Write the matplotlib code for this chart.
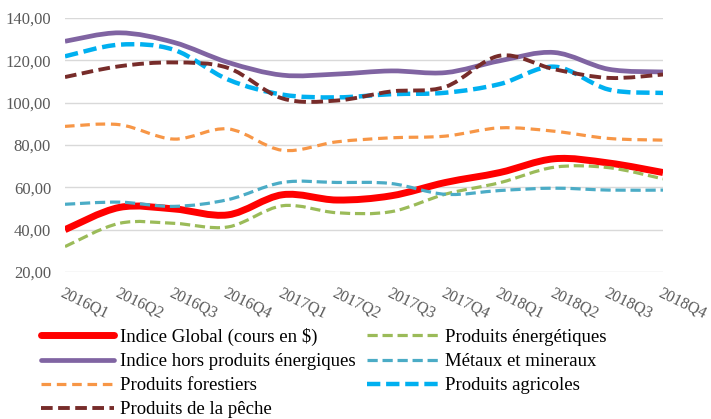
import numpy as np
import matplotlib
matplotlib.use('Agg')
import matplotlib.pyplot as plt
from matplotlib.path import Path
from matplotlib.patches import PathPatch
from matplotlib.lines import Line2D

plt.rcParams['font.family'] = ['Liberation Serif', 'DejaVu Serif']

quarters = ['2016Q1', '2016Q2', '2016Q3', '2016Q4', '2017Q1', '2017Q2',
            '2017Q3', '2017Q4', '2018Q1', '2018Q2', '2018Q3', '2018Q4']

indice_global = [40.0, 50.5, 49.8, 47.0, 56.5, 54.0, 56.0, 62.3, 67.0, 73.5, 71.5, 67.0]
energetiques = [32.0, 43.0, 43.0, 41.3, 51.3, 48.0, 48.5, 56.8, 62.2, 69.5, 69.3, 64.0]
hors_energie = [129.0, 133.0, 128.5, 119.0, 113.0, 113.5, 115.0, 114.2, 119.8, 123.7, 115.8, 114.5]
metaux = [52.0, 53.0, 51.0, 54.2, 62.3, 62.3, 61.8, 56.7, 58.5, 59.6, 58.7, 58.7]
forestiers = [88.8, 89.6, 82.8, 87.6, 77.5, 81.5, 83.4, 84.2, 88.1, 86.5, 83.1, 82.3]
agricoles = [121.9, 127.4, 125.0, 110.9, 103.8, 102.5, 104.0, 104.7, 108.8, 117.0, 106.2, 104.6]
peche = [112.1, 117.2, 119.0, 116.4, 102.0, 101.0, 105.3, 107.5, 122.2, 115.8, 111.7, 113.3]

y_ticks = [20, 40, 60, 80, 100, 120, 140]
y_labels = ['20,00', '40,00', '60,00', '80,00', '100,00', '120,00', '140,00']

# name, values, color, width, dash (None = solid)
series = [
    ('Indice Global (cours en $)', indice_global, '#FF0000', 5.0, None),
    ('Produits énergétiques', energetiques, '#9BBB59', 2.3, (3.2, 1.5)),
    ('Indice hors produits énergiques', hors_energie, '#8064A2', 3.4, None),
    ('Métaux et mineraux', metaux, '#4BACC6', 2.3, (3.2, 1.5)),
    ('Produits forestiers', forestiers, '#F79646', 2.3, (3.0, 1.8)),
    ('Produits agricoles', agricoles, '#00B0F0', 3.2, (3.0, 1.3)),
    ('Produits de la pêche', peche, '#772C2A', 2.8, (3.0, 1.4)),
]


def smooth_path(xs, ys):
    # excel-like smoothed line: cubic bezier through every point
    pts = np.column_stack([xs, ys]).astype(float)
    n = len(pts)
    verts = [pts[0]]
    codes = [Path.MOVETO]
    for i in range(n - 1):
        p0 = pts[max(i - 1, 0)]
        p1 = pts[i]
        p2 = pts[i + 1]
        p3 = pts[min(i + 2, n - 1)]
        verts += [p1 + (p2 - p0) / 6.0, p2 - (p3 - p1) / 6.0, p2]
        codes += [Path.CURVE4] * 3
    return Path(verts, codes)


fig = plt.figure(figsize=(7.11, 4.19), dpi=100)
ax = fig.add_axes([65 / 711, 1 - 272 / 419, 598 / 711, 254 / 419])

x = np.arange(len(quarters))
handles = []
for name, vals, color, lw, dash in series:
    ls = '-' if dash is None else (0, dash)
    patch = PathPatch(smooth_path(x, vals), fill=False, edgecolor=color,
                      linewidth=lw, linestyle=ls, capstyle='butt', joinstyle='round')
    ax.add_patch(patch)
    handles.append(Line2D([], [], color=color, linewidth=lw, linestyle=ls,
                          solid_capstyle='round', dash_capstyle='butt', label=name))

ax.set_xlim(0, len(quarters) - 1)
ax.set_ylim(20, 140)
ax.set_yticks(y_ticks)
ax.set_yticklabels(y_labels)
ax.set_xticks(x)
ax.set_xticklabels(quarters, rotation=-26, ha='left', va='top', rotation_mode='anchor')
ax.grid(axis='y', color='#D9D9D9', linewidth=1.0)
ax.set_axisbelow(True)
for s in ax.spines.values():
    s.set_visible(False)
ax.tick_params(axis='both', length=0, labelcolor='#595959', labelsize=12)
ax.tick_params(axis='x', pad=9, labelsize=11.5)
ax.tick_params(axis='y', pad=10)

# legend: matplotlib fills columns first, so reorder to match row-wise order
order = [0, 2, 4, 6, 1, 3, 5]
fig.legend([handles[i] for i in order], [handles[i].get_label() for i in order],
           loc='upper left', bbox_to_anchor=(41 / 711, 1 - 328 / 419), ncol=2,
           frameon=False, prop={'size': 13.5},
           handlelength=3.9, handletextpad=0.3, columnspacing=0.6,
           labelspacing=0.37, borderpad=0, borderaxespad=0)

fig.savefig('out.png', dpi=100)
